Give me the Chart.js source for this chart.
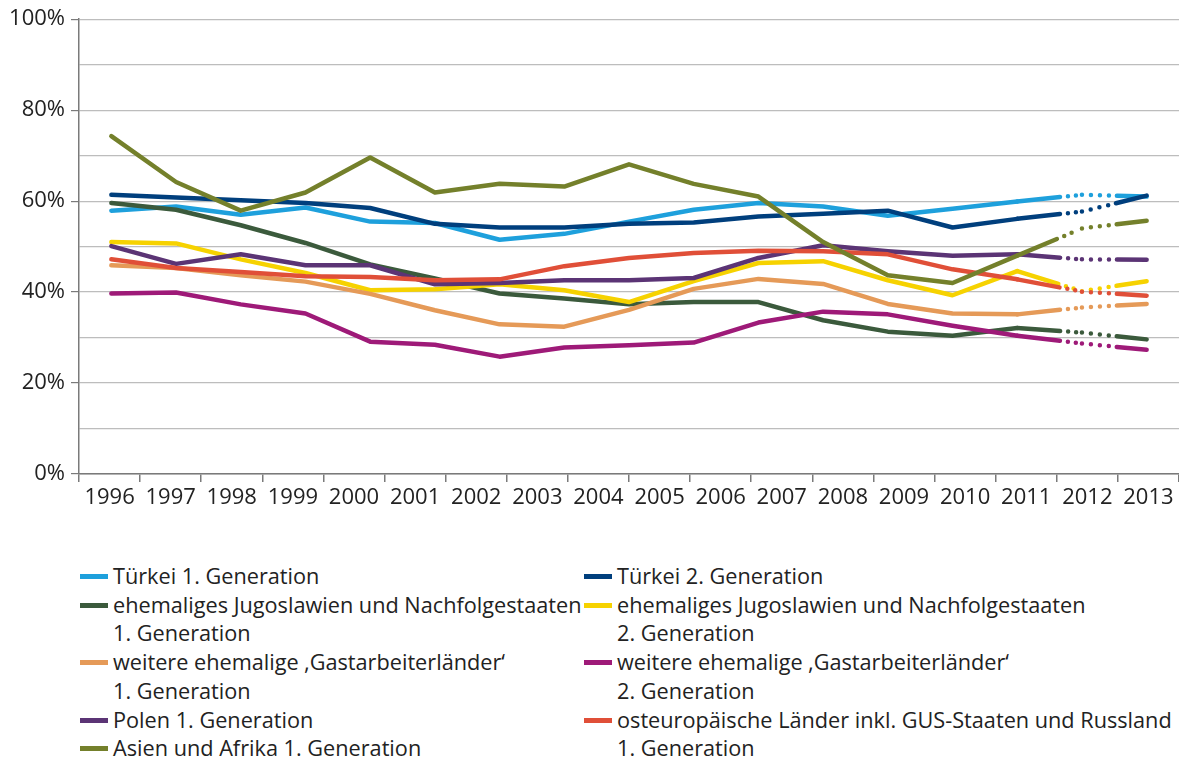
<!DOCTYPE html>
<html>
<head>
<meta charset="utf-8">
<script src="https://cdn.jsdelivr.net/npm/chart.js@4"></script>
<style>
  html, body { margin: 0; padding: 0; background: #fff; }
  #wrap { position: relative; width: 1179px; height: 761px; overflow: hidden; }
  #chart { position: absolute; left: 0; top: 0; }
  .legend-col { position: absolute; top: 562px; font-family: 'Open Sans', sans-serif; font-size: 21.7px; line-height: 28.7px; color: #222; white-space: nowrap; }
  .item { position: relative; padding-left: 33px; }
  .item .sw { position: absolute; left: 0; top: 12px; width: 28px; height: 5px; }
</style>
</head>
<body>
<div id="wrap">
  <canvas id="chart" width="1179" height="530"></canvas>
  <div class="legend-col" id="legLeft" style="left:80px"></div>
  <div class="legend-col" id="legRight" style="left:584px"></div>
</div>
<script>
// Achsenbeschriftung (18 Jahre) und Datenpunkte (17 Werte, 2012 fehlt)
const years = ['1996', '1997', '1998', '1999', '2000', '2001', '2002', '2003', '2004',
  '2005', '2006', '2007', '2008', '2009', '2010', '2011', '2012', '2013'];
const dataYears = ['1996', '1997', '1998', '1999', '2000', '2001', '2002', '2003', '2004',
  '2005', '2006', '2007', '2008', '2009', '2010', '2011', '2013'];

// Anteile in %
const turkei1     = [57.9, 58.8, 57.0, 58.6, 55.5, 55.2, 51.5, 52.8, 55.5, 58.1, 59.6, 58.8, 56.8, 58.3, 59.9, 61.4, 61.0];
const turkei2     = [61.4, 60.8, 60.2, 59.6, 58.5, 55.0, 54.2, 54.2, 55.0, 55.3, 56.6, 57.2, 57.9, 54.2, 56.1, 57.7, 61.2];
const jugo1       = [59.6, 58.1, 54.7, 50.8, 46.1, 43.0, 39.7, 38.6, 37.3, 37.8, 37.8, 33.8, 31.3, 30.4, 32.1, 31.1, 29.6];
const jugo2       = [51.0, 50.7, 47.2, 44.2, 40.4, 40.6, 41.7, 40.4, 37.8, 42.4, 46.4, 46.8, 42.6, 39.3, 44.6, 40.2, 42.4];
const gast1       = [45.9, 45.3, 43.7, 42.3, 39.6, 36.0, 32.9, 32.4, 36.1, 40.7, 42.9, 41.8, 37.4, 35.3, 35.1, 36.6, 37.4];
const gast2       = [39.7, 39.9, 37.3, 35.3, 29.1, 28.4, 25.8, 27.8, 28.3, 28.9, 33.3, 35.7, 35.1, 32.6, 30.4, 28.7, 27.3];
const polen       = [50.1, 46.2, 48.3, 45.9, 45.9, 41.7, 42.0, 42.6, 42.6, 43.1, 47.5, 50.3, 49.0, 48.0, 48.3, 47.2, 47.1];
const osteuropa   = [47.2, 45.3, 44.4, 43.5, 43.3, 42.6, 42.8, 45.7, 47.5, 48.6, 49.1, 49.0, 48.3, 45.0, 42.8, 40.1, 39.2];
const asienAfrika = [74.3, 64.2, 57.9, 61.9, 69.6, 61.9, 63.8, 63.2, 68.1, 63.8, 61.0, 51.0, 43.7, 42.0, 48.0, 54.0, 55.7];

const yTicks = [0, 20, 40, 60, 80, 100];

// Reihenfolge wie in der Legende; \n = Zeilenumbruch
const series = [
  { name: 'Türkei 1. Generation', data: turkei1, color: '#1ea0dc', col: 'L' },
  { name: 'Türkei 2. Generation', data: turkei2, color: '#003f7d', col: 'R' },
  { name: 'ehemaliges Jugoslawien und Nachfolgestaaten\n1. Generation', data: jugo1, color: '#3b5a3c', col: 'L' },
  { name: 'ehemaliges Jugoslawien und Nachfolgestaaten\n2. Generation', data: jugo2, color: '#f6d200', col: 'R' },
  { name: 'weitere ehemalige ‚Gastarbeiterländer‘\n1. Generation', data: gast1, color: '#e59a58', col: 'L' },
  { name: 'weitere ehemalige ‚Gastarbeiterländer‘\n2. Generation', data: gast2, color: '#9e1a78', col: 'R' },
  { name: 'Polen 1. Generation', data: polen, color: '#5b3475', col: 'L' },
  { name: 'osteuropäische Länder inkl. GUS-Staaten und Russland\n1. Generation', data: osteuropa, color: '#e04f38', col: 'R' },
  { name: 'Asien und Afrika 1. Generation', data: asienAfrika, color: '#74802b', col: 'L' },
];

const font = { family: "'Open Sans', sans-serif", size: 22 };

// letzte zwei Abschnitte: Übergang solide -> gepunktet -> solide
function dashFor(ctx) {
  if (ctx.p0DataIndex === 14) return [43, 8, 0, 8, 0, 200];
  if (ctx.p0DataIndex === 15) return [0, 9, 0, 9, 0, 9, 0, 8, 200, 0];
  return undefined;
}

new Chart(document.getElementById('chart'), {
  type: 'line',
  data: {
    labels: dataYears,
    datasets: series.map((s, i) => ({
      label: s.name.replace('\n', ' '),
      data: s.data,
      xAxisID: 'xData',
      borderColor: s.color,
      backgroundColor: s.color,
      borderWidth: 4.5,
      borderCapStyle: 'round',
      borderJoinStyle: 'round',
      pointRadius: 0,
      tension: 0,
      order: series.length - i,
      segment: { borderDash: dashFor },
    })),
  },
  options: {
    responsive: false,
    animation: false,
    devicePixelRatio: 1,
    layout: { padding: { top: 17, right: 0, left: 0, bottom: 0 } },
    plugins: { legend: { display: false }, tooltip: { enabled: false } },
    scales: {
      x: {
        type: 'category',
        axis: 'x',
        position: 'bottom',
        labels: years,
        offset: true,
        grid: { offset: true, drawOnChartArea: false, drawTicks: true, tickLength: 8, tickColor: '#7a7a7a', lineWidth: 1.5 },
        border: { color: '#7a7a7a', width: 1.5 },
        ticks: { font, color: '#222', padding: 3, maxRotation: 0, autoSkip: false },
        afterFit(s) { s.height = 56; },
      },
      xData: {
        type: 'category',
        axis: 'x',
        position: 'bottom',
        labels: dataYears,
        offset: true,
        display: false,
      },
      y: {
        min: 0,
        max: 100,
        ticks: {
          stepSize: 10,
          font,
          color: '#222',
          padding: 6,
          callback: (v) => (yTicks.includes(v) ? v + '%' : ''),
        },
        grid: {
          color: '#bdbdbd',
          lineWidth: 1.2,
          tickLength: 8,
          tickColor: (c) => (c.tick && yTicks.includes(c.tick.value) ? '#7a7a7a' : 'rgba(0,0,0,0)'),
        },
        border: { color: '#7a7a7a', width: 1.5 },
        afterFit(s) { s.width = 79; },
      },
    },
  },
});

// Legende (zweispaltig, wie im Original)
for (const s of series) {
  const col = document.getElementById(s.col === 'L' ? 'legLeft' : 'legRight');
  const item = document.createElement('div');
  item.className = 'item';
  const sw = document.createElement('span');
  sw.className = 'sw';
  sw.style.background = s.color;
  item.appendChild(sw);
  s.name.split('\n').forEach((line, k) => {
    if (k) item.appendChild(document.createElement('br'));
    item.appendChild(document.createTextNode(line));
  });
  col.appendChild(item);
}
</script>
</body>
</html>
